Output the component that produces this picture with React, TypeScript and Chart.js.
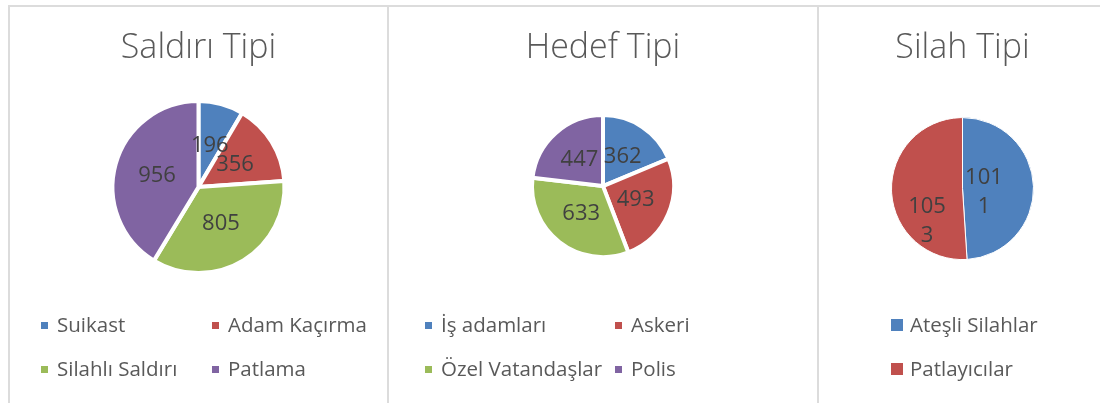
import React, { useEffect, useRef } from "react";
import { Chart, registerables } from "chart.js";

Chart.register(...registerables);

// ---------- data ----------
const titles = ["Saldırı Tipi", "Hedef Tipi", "Silah Tipi"];

const saldiriLabels = ["Suikast", "Adam Kaçırma", "Silahlı Saldırı", "Patlama"];
const saldiriValues = [196, 356, 805, 956];

const hedefLabels = ["İş adamları", "Askeri", "Özel Vatandaşlar", "Polis"];
const hedefValues = [362, 493, 633, 447];

const silahLabels = ["Ateşli Silahlar", "Patlayıcılar"];
const silahValues = [1011, 1053];

const COLORS = ["#4F81BD", "#C0504D", "#9BBB59", "#8064A2"];
const FONT = "'Open Sans', 'Noto Sans', sans-serif";
const BORDER = "#dcdcdc";

// ---------- plugins ----------
const valueLabelPlugin = {
  id: "valueLabels",
  afterDatasetsDraw(chart: any, _args: any, opts: any) {
    const ctx = chart.ctx;
    const meta = chart.getDatasetMeta(0);
    const data = chart.data.datasets[0].data;
    ctx.save();
    ctx.font = `${opts.size}px ${FONT}`;
    ctx.fillStyle = opts.color;
    ctx.textAlign = "center";
    ctx.textBaseline = "middle";
    meta.data.forEach((arc: any, i: number) => {
      const p = arc.getCenterPoint();
      const off = (opts.offsets && opts.offsets[i]) || [0, 0];
      const text = String(data[i]);
      const lines: string[] = [];
      if (opts.wrap) {
        for (let k = 0; k < text.length; k += opts.wrap) lines.push(text.slice(k, k + opts.wrap));
      } else lines.push(text);
      lines.forEach((ln, k) => {
        ctx.fillText(ln, p.x + off[0], p.y + off[1] + (k - (lines.length - 1) / 2) * opts.lineHeight);
      });
    });
    ctx.restore();
  },
};

const gridLegendPlugin = {
  id: "gridLegend",
  afterDraw(chart: any, _args: any, opts: any) {
    const ctx = chart.ctx;
    const labels = chart.data.labels as string[];
    const colors = chart.data.datasets[0].backgroundColor as string[];
    ctx.save();
    ctx.font = `${opts.size}px ${FONT}`;
    ctx.textBaseline = "middle";
    ctx.textAlign = "left";
    labels.forEach((lab, i) => {
      const col = i % opts.cols;
      const row = Math.floor(i / opts.cols);
      const x = opts.colX[col];
      const y = opts.rowY[row];
      ctx.fillStyle = colors[i];
      ctx.fillRect(x, Math.round(y - opts.box / 2), opts.box, opts.box);
      ctx.fillStyle = opts.color;
      ctx.fillText(lab, x + opts.box + opts.gap, y + 1);
    });
    ctx.restore();
  },
};

// ---------- chart component ----------
type PieProps = {
  left: number;
  width: number;
  title: string;
  labels: string[];
  values: number[];
  radius: number;
  borderWidth: number;
  padLeft: number;
  padBottom: number;
  legend: any;
  valueOpts: any;
};

function PiePanel(p: PieProps) {
  const ref = useRef<HTMLCanvasElement | null>(null);
  useEffect(() => {
    if (!ref.current) return;
    const chart = new Chart(ref.current, {
      type: "pie",
      data: {
        labels: p.labels,
        datasets: [
          {
            data: p.values,
            backgroundColor: COLORS.slice(0, p.values.length),
            borderColor: "#ffffff",
            borderWidth: p.borderWidth,
            radius: p.radius,
          } as any,
        ],
      },
      options: {
        responsive: false,
        animation: false,
        events: [],
        layout: { padding: { top: 0, left: p.padLeft, right: 0, bottom: p.padBottom } },
        plugins: {
          legend: { display: false },
          tooltip: { enabled: false },
          title: {
            display: true,
            text: p.title,
            color: "#595959",
            font: { family: FONT, size: 34, weight: "300" as any, lineHeight: 1.2 },
            padding: { top: 28, bottom: 10 },
          },
          valueLabels: p.valueOpts,
          gridLegend: p.legend,
        } as any,
      },
      plugins: [valueLabelPlugin, gridLegendPlugin],
    });
    return () => chart.destroy();
  }, []);
  return (
    <canvas
      ref={ref}
      width={p.width}
      height={403}
      style={{ position: "absolute", left: p.left, top: 0, width: p.width, height: 403 }}
    />
  );
}

export default function App() {
  const legendBase = { size: 20.5, color: "#595959", gap: 9, rowY: [325, 369] };
  const valueBase = { size: 22, color: "#404040", lineHeight: 29 };
  return (
    <div
      style={{
        position: "absolute",
        left: 0,
        top: 0,
        width: 1100,
        height: 403,
        background: "#ffffff",
        overflow: "hidden",
      }}
    >
      {/* panel frames */}
      <div style={{ position: "absolute", left: 8, top: 5, width: 1092, height: 0, borderTop: `2px solid ${BORDER}` }} />
      <div style={{ position: "absolute", left: 8, top: 5, width: 0, height: 398, borderLeft: `2px solid ${BORDER}` }} />
      <div style={{ position: "absolute", left: 387, top: 5, width: 0, height: 398, borderLeft: `2px solid ${BORDER}` }} />
      <div style={{ position: "absolute", left: 817, top: 5, width: 0, height: 398, borderLeft: `2px solid ${BORDER}` }} />

      <PiePanel
        left={10}
        width={377}
        title={titles[0]}
        labels={saldiriLabels}
        values={saldiriValues}
        radius={86}
        borderWidth={4}
        padLeft={0}
        padBottom={107.6}
        legend={{ ...legendBase, cols: 2, colX: [31, 202], box: 7 }}
        valueOpts={{ ...valueBase }}
      />
      <PiePanel
        left={389}
        width={428}
        title={titles[1]}
        labels={hedefLabels}
        values={hedefValues}
        radius={71}
        borderWidth={4}
        padLeft={0}
        padBottom={109.6}
        legend={{ ...legendBase, cols: 2, colX: [36, 226], box: 7 }}
        valueOpts={{ ...valueBase }}
      />
      <PiePanel
        left={819}
        width={281}
        title={titles[2]}
        labels={silahLabels}
        values={silahValues}
        radius={71}
        borderWidth={1}
        padLeft={6}
        padBottom={104.6}
        legend={{ ...legendBase, cols: 1, colX: [72], box: 12, gap: 7 }}
        valueOpts={{ ...valueBase, wrap: 3, offsets: [[-14, 5], [0, 31]] }}
      />
    </div>
  );
}
